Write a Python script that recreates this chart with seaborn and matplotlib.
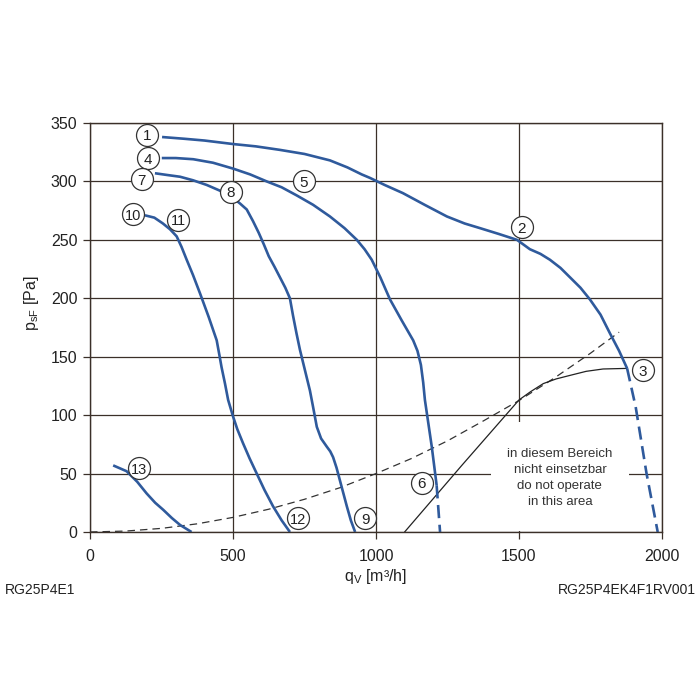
import numpy as np
import pandas as pd
import matplotlib
matplotlib.use("Agg")
import matplotlib.pyplot as plt
from matplotlib.patches import Rectangle
import seaborn as sns

# ---- data ----
c1_x = [252, 330, 400, 500, 580, 664, 750, 839, 900, 950, 979, 1030, 1094, 1170, 1248, 1310, 1364,
        1430, 1493, 1538, 1575, 1608, 1645, 1678, 1715, 1748, 1785, 1818, 1850, 1878]
c1_y = [338, 336.5, 335, 332, 330, 327, 323.5, 318, 312, 306, 303, 297, 290, 280, 270, 264, 260,
        255, 250, 242, 238, 233, 226, 218, 209, 199, 186, 170, 155, 140]
c1d_x = [1878, 1908, 1946, 1985]
c1d_y = [140, 107, 50, 0]

c4_x = [251, 300, 361, 430, 500, 560, 618, 670, 723, 780, 839, 890, 933, 960, 985, 1015, 1049,
        1090, 1130, 1145, 1157, 1165, 1171, 1183, 1195, 1212]
c4_y = [320, 320, 319, 316, 311, 306, 300, 295, 288, 280, 270, 260, 250, 242, 233, 218, 199,
        181, 164, 155, 143, 128, 113, 93, 73, 40]
c4d_x = [1212, 1224]
c4d_y = [40, 0]

c7_x = [227, 270, 315, 360, 408, 455, 500, 525, 548, 570, 590, 608, 625, 645, 664, 683, 699, 710,
        722, 734, 750, 769, 780, 793, 808, 828, 840, 850, 862, 874, 886, 898, 912, 927]
c7_y = [307, 305.5, 304, 301, 297, 292, 286, 281, 276, 266, 256, 246, 236, 227, 218, 209, 200, 185,
        170, 156, 140, 121, 107, 90, 80, 73, 69, 64, 55, 44, 33, 22, 10, 0]

c10_x = [192, 225, 255, 280, 303, 320, 338, 360, 385, 415, 443, 452, 460, 472, 483, 500, 515, 535,
         558, 583, 610, 640, 670, 699]
c10_y = [271, 269, 264, 259, 253, 244, 233, 220, 204, 184, 164, 152, 141, 127, 113, 99, 88, 76,
         63, 50, 36, 22, 10, 0]

c13_x = [81, 128, 165, 198, 228, 256, 286, 315, 355]
c13_y = [57, 52, 43, 33, 25, 19, 12, 6, 0]

limit_x = [1100, 1300, 1500, 1540, 1585, 1630, 1678, 1735, 1794, 1877]
limit_y = [0, 57, 113, 120, 127, 131, 134, 137.5, 139.5, 140]

sys_x = [0, 125, 250, 375, 500, 625, 750, 875, 1000, 1125, 1250, 1375, 1500, 1625, 1750, 1850]
sys_y = [0, 0.8, 3.1, 7, 12.5, 19.5, 28, 38, 50, 63, 78, 95, 112.5, 132, 153, 171]

mark_labels = ["1", "2", "3", "4", "5", "6", "7", "8", "9", "10", "11", "12", "13"]
mark_x = [198, 1509, 1934, 204, 748, 1160, 181, 493, 962, 151, 309, 728, 171]
mark_y = [340, 261, 138.6, 320, 300, 42, 302, 291, 11.7, 272, 267, 11.7, 54.5]

x_ticks = [0, 500, 1000, 1500, 2000]
y_ticks = [0, 50, 100, 150, 200, 250, 300, 350]

note_text = "in diesem Bereich\nnicht einsetzbar\ndo not operate\nin this area"

# ---- style ----
sns.set_theme(style="white")
plt.rcParams["font.family"] = ["Liberation Sans", "DejaVu Sans"]
plt.rcParams["mathtext.fontset"] = "custom"
plt.rcParams["mathtext.rm"] = "Liberation Sans"
plt.rcParams["mathtext.it"] = "Liberation Sans"

BLUE = "#2f5a9c"
GRID = "#3b3029"
TXT = "#222222"

fig = plt.figure(figsize=(7, 7), dpi=100)
ax = fig.add_axes([90 / 700, 1 - 532 / 700, (662 - 90) / 700, (532 - 123) / 700])
ax.set_axisbelow(True)

ax.set_xlim(0, 2000)
ax.set_ylim(0, 350)
ax.set_xticks(x_ticks)
ax.set_yticks(y_ticks)
ax.grid(True, color=GRID, lw=0.9)
for s in ax.spines.values():
    s.set_color(GRID)
    s.set_linewidth(1.0)
ax.tick_params(axis="both", direction="out", length=5, width=0.9, color=GRID,
               labelsize=11.5, labelcolor=TXT, left=True, bottom=True)
ax.tick_params(axis="y", pad=4)
ax.tick_params(axis="x", pad=7)

# white area behind the note
ax.add_patch(Rectangle((1401, 1), 1885 - 1401, 93, facecolor="white", edgecolor="none", zorder=1))

def draw(xs, ys, **kw):
    sns.lineplot(x=xs, y=ys, sort=False, estimator=None, ax=ax, legend=False, **kw)

draw(sys_x, sys_y, color="#333333", lw=0.9, linestyle=(0, (6, 4)))
draw(limit_x, limit_y, color="#222222", lw=0.9)

for xs, ys in [(c1_x, c1_y), (c4_x, c4_y), (c7_x, c7_y), (c10_x, c10_y), (c13_x, c13_y)]:
    draw(xs, ys, color=BLUE, lw=1.9, solid_capstyle="butt", solid_joinstyle="round")
for xs, ys in [(c1d_x, c1d_y), (c4d_x, c4d_y)]:
    draw(xs, ys, color=BLUE, lw=1.9, linestyle=(0, (5, 2.5)))

ax.scatter(mark_x, mark_y, s=250, facecolor="white", edgecolor="#333333", linewidth=0.9, zorder=4)
for lab, mx, my in zip(mark_labels, mark_x, mark_y):
    ax.text(mx, my, lab, ha="center", va="center_baseline", fontsize=11 if len(lab) == 1 else 10.5,
            color=TXT, zorder=5)

ax.text(1643, 46, note_text, ha="center", va="center", fontsize=9.5, color="#333333",
        linespacing=1.45, zorder=3)

ax.set_xlabel("q$_\\mathregular{V}$ [m³/h]", fontsize=11.5, color=TXT)
ax.set_ylabel("p$_\\mathregular{sF}$ [Pa]", fontsize=11.5, color=TXT)
ax.xaxis.set_label_coords(0.5, -0.085)
ax.yaxis.set_label_coords(-0.085, 0.56)

fig.text(5 / 700, 1 - 590 / 700, "RG25P4E1", ha="left", va="center", fontsize=10, color=TXT)
fig.text(696 / 700, 1 - 590 / 700, "RG25P4EK4F1RV001", ha="right", va="center", fontsize=10, color=TXT)

fig.savefig("out.png", dpi=100)
